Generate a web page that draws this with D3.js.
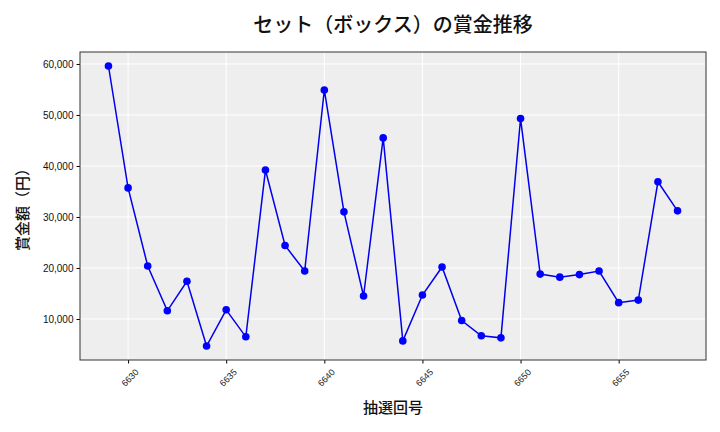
<!DOCTYPE html>
<html>
<head>
<meta charset="utf-8">
<script src="https://cdn.jsdelivr.net/npm/d3@7"></script>
<style>
  body { margin: 0; background: #fff; }
  svg { font-family: "Noto Sans CJK JP", "Noto Sans", sans-serif; }
</style>
</head>
<body>
<svg width="720" height="432"></svg>
<script>
// Data
let draws = [6629, 6630, 6631, 6632, 6633, 6634, 6635, 6636, 6637, 6638,
             6639, 6640, 6641, 6642, 6643, 6644, 6645, 6646, 6647, 6648,
             6649, 6650, 6651, 6652, 6653, 6654, 6655, 6656, 6657, 6658];
let prizes = [59600, 35700, 20400, 11600, 17400, 4700, 11800, 6500, 39200, 24400,
              19400, 54900, 31000, 14500, 45500, 5700, 14700, 20200, 9700, 6700,
              6300, 49300, 18800, 18200, 18700, 19400, 13200, 13700, 36900, 31200];
let xTicks = [6630, 6635, 6640, 6645, 6650, 6655];
let yTicks = [10000, 20000, 30000, 40000, 50000, 60000];

let margin = { left: 80, right: 14, top: 52, bottom: 72 };
let svg = d3.select('svg');
let W = 720, H = 432;
let w = W - margin.left - margin.right;
let h = H - margin.top - margin.bottom;

// Scales (matplotlib-style 5% margins)
let xExt = d3.extent(draws);
let xPad = (xExt[1] - xExt[0]) * 0.05;
let x = d3.scaleLinear()
  .domain([xExt[0] - xPad, xExt[1] + xPad])
  .range([margin.left, margin.left + w]);

let yExt = d3.extent(prizes);
let yPad = (yExt[1] - yExt[0]) * 0.05;
let y = d3.scaleLinear()
  .domain([yExt[0] - yPad, yExt[1] + yPad])
  .range([margin.top + h, margin.top]);

// Plot background
svg.append('rect')
  .attr('x', margin.left).attr('y', margin.top)
  .attr('width', w).attr('height', h)
  .attr('fill', '#eeeeee');

// Grid
svg.append('g')
  .selectAll('line.gx')
  .data(xTicks)
  .enter().append('line')
  .attr('x1', d => x(d)).attr('x2', d => x(d))
  .attr('y1', margin.top).attr('y2', margin.top + h)
  .attr('stroke', '#fff').attr('stroke-width', 1);

svg.append('g')
  .selectAll('line.gy')
  .data(yTicks)
  .enter().append('line')
  .attr('x1', margin.left).attr('x2', margin.left + w)
  .attr('y1', d => y(d)).attr('y2', d => y(d))
  .attr('stroke', '#fff').attr('stroke-width', 1);

// Axes
let xAxis = svg.append('g')
  .attr('transform', `translate(0,${margin.top + h})`)
  .call(d3.axisBottom(x).tickValues(xTicks).tickSize(3.5).tickFormat(d3.format('d')));
xAxis.select('.domain').remove();
xAxis.selectAll('text')
  .attr('font-size', 9)
  .attr('fill', '#222')
  .attr('text-anchor', 'end')
  .attr('dy', '0.35em')
  .attr('transform', 'translate(4,6) rotate(-45)');

let yAxis = svg.append('g')
  .attr('transform', `translate(${margin.left},0)`)
  .call(d3.axisLeft(y).tickValues(yTicks).tickSize(3.5).tickFormat(d3.format(',')));
yAxis.select('.domain').remove();
yAxis.selectAll('text')
  .attr('font-size', 10)
  .attr('fill', '#111');

// Frame
svg.append('rect')
  .attr('x', margin.left).attr('y', margin.top)
  .attr('width', w).attr('height', h)
  .attr('fill', 'none')
  .attr('stroke', '#333').attr('stroke-width', 1);

// Line + points
let line = d3.line()
  .x((d, i) => x(draws[i]))
  .y(d => y(d));

svg.append('path')
  .datum(prizes)
  .attr('d', line)
  .attr('fill', 'none')
  .attr('stroke', '#0000ee')
  .attr('stroke-width', 1.5);

svg.append('g')
  .selectAll('circle')
  .data(prizes)
  .enter().append('circle')
  .attr('cx', (d, i) => x(draws[i]))
  .attr('cy', d => y(d))
  .attr('r', 3.8)
  .attr('fill', '#0000ff');

// Title
svg.append('text')
  .text('セット（ボックス）の賞金推移')
  .attr('x', margin.left + w / 2)
  .attr('y', 32)
  .attr('text-anchor', 'middle')
  .attr('font-size', 20)
  .attr('font-weight', 500)
  .attr('fill', '#111');

// Axis labels
svg.append('text')
  .text('抽選回号')
  .attr('x', margin.left + w / 2)
  .attr('y', 413)
  .attr('text-anchor', 'middle')
  .attr('font-size', 15)
  .attr('font-weight', 500)
  .attr('fill', '#111');

svg.append('text')
  .text('賞金額（円）')
  .attr('transform', `translate(28,${margin.top + h / 2}) rotate(-90)`)
  .attr('text-anchor', 'middle')
  .attr('font-size', 15)
  .attr('font-weight', 500)
  .attr('fill', '#111');
</script>
</body>
</html>
